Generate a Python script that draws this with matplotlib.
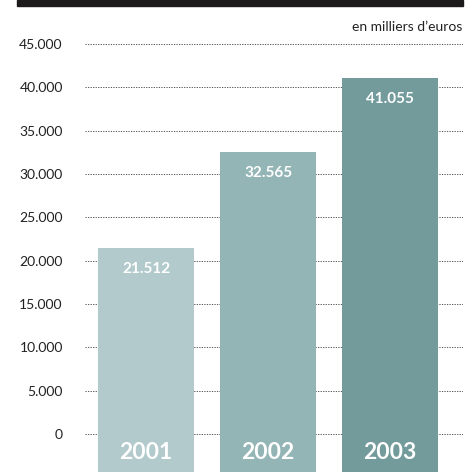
import matplotlib
matplotlib.use("Agg")
import matplotlib.pyplot as plt
from matplotlib.patches import Rectangle

years = ["2001", "2002", "2003"]
values = [21512, 32565, 41055]
value_labels = ["21.512", "32.565", "41.055"]
yticks = [0, 5000, 10000, 15000, 20000, 25000, 30000, 35000, 40000, 45000]
ytick_labels = ["0", "5.000", "10.000", "15.000", "20.000", "25.000",
                "30.000", "35.000", "40.000", "45.000"]
colors = ["#b3cacd", "#94b5b5", "#739b9b"]

plt.rcParams['font.family'] = ['Lato', 'DejaVu Sans']

W, H = 475, 472
fig = plt.figure(figsize=(W / 100, H / 100), dpi=100)

# black band at the top
fig.patches.append(Rectangle((17 / W, 1 - 6 / H), (463 - 17) / W, 6 / H,
                             transform=fig.transFigure, color="#1c1a1a", zorder=5))
fig.text(462 / W, 1 - 27 / H, "en milliers d\u2019euros", ha="right", va="center",
         fontsize=10, color="#222222")

ax = fig.add_axes([85 / W, 0, (463 - 85) / W, (H - 44) / H])
bottom = -4385
ax.set_ylim(bottom, 45000)
ax.set_xlim(-0.5, 2.598)

for y in yticks:
    ax.axhline(y, color="#555555", lw=0.7, ls=(0, (1.3, 1.3)), zorder=1)

x = [0, 1, 2]
ax.bar(x, [v - bottom for v in values], bottom=bottom, width=0.787,
       color=colors, zorder=2)

for xi, v, lab, yr in zip(x, values, value_labels, years):
    ax.text(xi, v - 2450, lab, ha="center", va="center", color="white",
            fontsize=11, fontweight="bold")
    ax.text(xi, -2150, yr, ha="center", va="center", color="white",
            fontsize=16.5, fontweight="bold")

ax.set_yticks(yticks)
ax.set_yticklabels(ytick_labels)
ax.tick_params(axis="y", length=0, pad=16, labelsize=10, labelcolor="#222222")
ax.set_xticks([])
for s in ax.spines.values():
    s.set_visible(False)

fig.savefig("out.png", dpi=100)
